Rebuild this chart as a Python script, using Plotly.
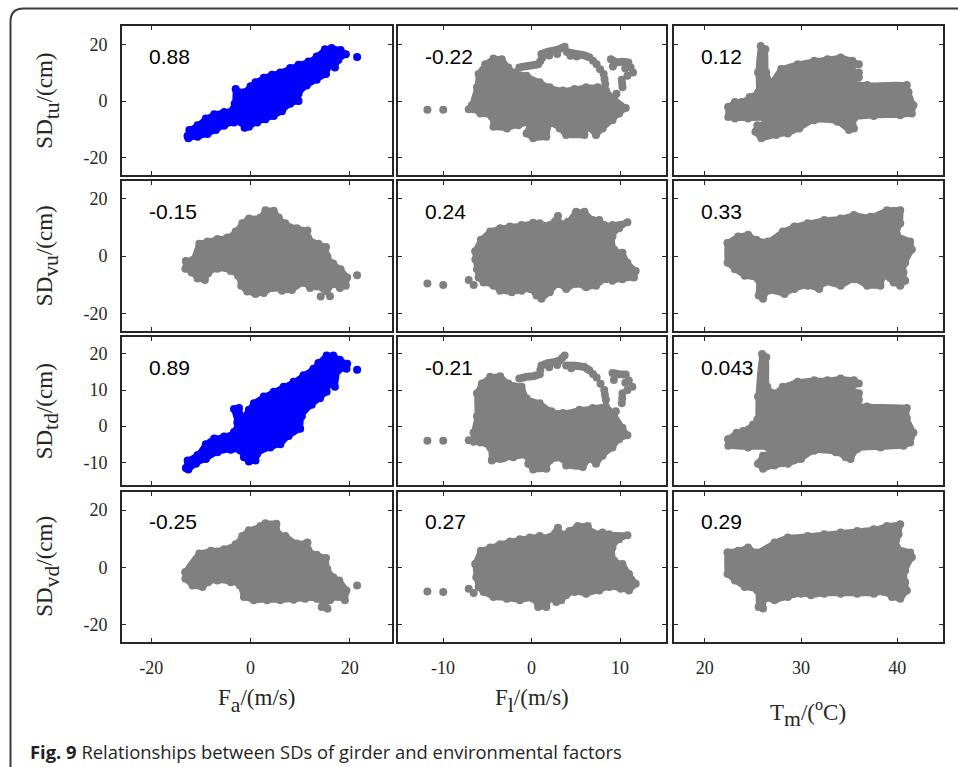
import plotly.graph_objects as go

W, H = 958, 767
BLUE = "#0000FF"
GRAY = "#808080"
AXC = "#262626"

# ---------------- axis metadata ----------------
SUB = '<span style="font-size:31px"><sub>{}</sub></span>'
X_TITLES = ["F" + SUB.format("a") + "/(m/s)", "F" + SUB.format("l") + "/(m/s)",
            "T" + SUB.format("m") + "/(<sup>o</sup>C)"]
Y_TITLES = ["SD" + SUB.format("tu") + "/(cm)", "SD" + SUB.format("vu") + "/(cm)",
            "SD" + SUB.format("td") + "/(cm)", "SD" + SUB.format("vd") + "/(cm)"]
X_TICKS = [[-20, 0, 20], [-10, 0, 10], [20, 30, 40]]
Y_TICKS = [[-20, 0, 20], [-20, 0, 20], [-10, 0, 10, 20], [-20, 0, 20]]
X_RANGES = [[-25.9, 28.4], [-15.15, 15.2], [16.8, 44.7]]
Y_RANGES = [[-26.0, 26.3], [-26.1, 26.1], [-16.4, 24.6], [-26.1, 26.4]]
CORR_LABELS = [["0.88", "-0.22", "0.12"],
               ["-0.15", "0.24", "0.33"],
               ["0.89", "-0.21", "0.043"],
               ["-0.25", "0.27", "0.29"]]
CAPTION_BOLD = "Fig. 9"
CAPTION_TEXT = "Relationships between SDs of girder and environmental factors"

# ---------------- point clouds (outline of dense cloud + isolated points) ----------------
# SD_tu vs F_a
FA_SDTU_X = [-12.67, -12.33, -10.67, -9.0, -7.33, -5.33, -3.47, -3.2, -3.0, -2.33, -1.33, 0, 1.0, 2.67, 4.33, 6.0, 8.0, 9.67, 11.67, 13.33, 15.0, 16.33, 18.13, 19.2, 17.67, 17.0, 16.0, 15.2, 13.33, 11.33, 9.67, 9.67, 8.0, 6.33, 4.67, 3.0, 1.33, -0.33, -1.2, -1.87, -3.33, -5.33, -7.0, -8.67, -10.67, -12.53]
FA_SDTU_Y = [-12.29, -10.2, -8.5, -6.15, -4.64, -3.83, -2.9, -0.93, 4.29, 3.13, 3.13, 5.22, 6.61, 8.23, 9.28, 10.09, 11.59, 12.75, 13.91, 15.65, 18.2, 18.67, 17.97, 16.46, 14.49, 11.83, 12.41, 9.51, 7.54, 5.45, 2.55, 0, -0.93, -3.59, -5.22, -6.38, -7.54, -9.04, -9.39, -7.54, -7.54, -8.7, -10.2, -11.59, -12.52, -13.1]
FA_SDTU_DOT_X = [21.47]
FA_SDTU_DOT_Y = [15.54]

# SD_vu vs F_a
FA_SDVU_X = [-13.0, -11.67, -10.33, -8.67, -6.67, -4.67, -3.0, -1.67, -0.33, 2.0, 3.0, 4.67, 5.67, 7.0, 9.33, 11.47, 11.67, 13.67, 15.2, 15.47, 16.67, 18.13, 19.47, 19.2, 18.0, 16.67, 15.33, 13.33, 12.0, 10.67, 8.33, 6.33, 4.67, 2.67, 1.0, -0.67, -1.87, -2.53, -4.0, -6.67, -8.53, -9.2, -10.67, -11.87, -13.13]
FA_SDVU_Y = [-1.72, -1.37, 4.35, 5.15, 5.96, 6.53, 8.59, 11.45, 13.17, 13.52, 16.04, 15.81, 13.52, 11.45, 9.74, 8.93, 6.3, 4.35, 3.21, 0, -2.52, -4.58, -7.45, -10.31, -11.11, -9.74, -12.37, -10.54, -11.11, -9.39, -11.8, -12.03, -11.11, -12.83, -13.17, -12.37, -10.31, -6.87, -5.15, -4.35, -5.96, -8.36, -7.79, -5.73, -4.35]
FA_SDVU_DOT_X = [21.47, 14.13, 16.0]
FA_SDVU_DOT_Y = [-6.64, -14.09, -13.97]

# SD_td vs F_a
FA_SDTD_X = [-13.0, -12.67, -10.67, -9.0, -7.33, -5.33, -3.33, -2.67, -3.33, -2.33, -1.67, -0.33, 0.67, 2.67, 4.67, 6.67, 8.67, 10.67, 12.67, 13.67, 15.33, 16.67, 18.0, 19.47, 19.33, 17.67, 17.0, 16.0, 15.33, 14.0, 12.33, 10.33, 10.0, 7.67, 6.0, 4.0, 1.33, 1.0, -0.33, -1.33, -2.0, -4.0, -6.67, -9.0, -11.0, -12.53]
FA_SDTD_Y = [-11.64, -9.55, -8.0, -5.0, -3.45, -2.91, -1.64, 0.91, 4.73, 5.0, 2.27, 4.55, 6.36, 8.18, 9.55, 10.91, 12.27, 14.09, 15.91, 17.45, 19.55, 19.55, 18.36, 17.27, 15.91, 15.45, 10.91, 11.82, 9.55, 7.73, 5.91, 2.73, -0.73, -2.73, -5.0, -5.91, -7.73, -9.55, -9.82, -8.64, -6.82, -6.55, -7.27, -9.09, -10.45, -12.0]
FA_SDTD_DOT_X = [21.47]
FA_SDTD_DOT_Y = [15.64]

# SD_vd vs F_a
FA_SDVD_X = [-13.13, -10.33, -8.0, -5.33, -3.0, -1.67, -0.33, 2.0, 3.0, 5.2, 5.67, 7.0, 9.33, 11.47, 11.67, 13.33, 15.2, 15.47, 16.67, 17.87, 19.33, 19.0, 17.67, 16.0, 15.0, 13.33, 11.0, 8.67, 6.0, 3.33, 0.67, -1.33, -2.13, -4.0, -6.67, -8.53, -9.67, -11.67, -13.13]
FA_SDVD_Y = [-1.73, 4.84, 5.77, 6.34, 8.07, 10.96, 12.92, 14.42, 15.34, 15.22, 11.53, 10.96, 8.3, 8.65, 6.0, 4.38, 3.23, -0.58, -3.46, -4.61, -8.07, -11.53, -10.38, -11.53, -12.92, -10.96, -10.96, -11.3, -11.53, -11.53, -11.53, -10.38, -6.34, -5.19, -4.61, -5.19, -6.92, -6.34, -4.04]
FA_SDVD_DOT_X = [21.47, 14.33, 15.5]
FA_SDVD_DOT_Y = [-6.34, -13.84, -14.5]

# SD_tu vs F_l
FL_SDTU_X = [-6.73, -6.17, -5.98, -5.23, -4.3, -3.36, -2.62, -1.87, -0.56, 0.93, 2.06, 3.55, 4.86, 6.17, 7.47, 8.41, 9.34, 10.65, 9.9, 9.15, 8.03, 7.29, 6.35, 5.98, 3.92, 3.18, 2.06, 1.68, 0.19, -0.56, -0.19, -1.49, -2.8, -4.3, -4.48, -5.79, -6.54]
FL_SDTU_Y = [-1.51, 4.87, 9.5, 12.98, 14.95, 14.72, 11.82, 10.08, 8.92, 6.6, 4.87, 3.71, 4.29, 4.87, 4.87, 3.71, 0.81, -2.43, -4.4, -6.72, -9.62, -11.94, -9.04, -11.94, -11.94, -9.62, -7.88, -12.51, -13.09, -11.36, -7.88, -8.46, -9.62, -9.04, -5.56, -4.4, -2.9]
FL_SDTU_DOT_X = [-11.77, -9.98, -7.1, -1.38, -1.0, -0.64, -0.26, 0.11, 0.45, 0.75, 1.0, 1.23, 1.12, 1.45, 1.76, 2.1, 2.43, 2.76, 3.1, 3.42, 3.74, 4.0, 4.35, 4.67, 5.0, 5.27, 5.6, 5.9, 6.22, 6.54, 6.95, 7.36, 7.75, 8.15, 8.25, 8.33, 8.97, 9.3, 9.6, 9.95, 10.28, 10.6, 10.95, 11.2, 11.47, 10.84, 10.2, 10.25, 10.28, 9.6, 2.0, 2.9, 4.4, 5.1, 9.2, 10.6]
FL_SDTU_DOT_Y = [-3.01, -3.01, -2.9, 11.82, 12.05, 12.28, 12.45, 12.63, 12.8, 12.98, 14.1, 15.3, 16.57, 16.9, 17.27, 17.5, 17.73, 17.95, 18.19, 18.65, 19.12, 17.27, 17.0, 16.8, 16.6, 16.45, 16.3, 16.11, 15.8, 15.41, 14.2, 12.98, 11.2, 9.5, 7.8, 6.03, 14.72, 14.1, 13.56, 13.7, 13.79, 13.7, 13.56, 11.8, 10.08, 8.92, 7.53, 6.2, 4.87, 2.55, 16.0, 16.6, 15.9, 15.7, 12.2, 11.5]

# SD_vu vs F_l
FL_SDVU_X = [-6.35, -5.72, -4.67, -3.55, -2.43, -1.12, 0.19, 0.93, 2.06, 2.99, 3.18, 4.11, 5.04, 5.98, 6.91, 7.66, 8.22, 9.15, 10.84, 9.9, 9.15, 9.34, 10.28, 10.84, 11.77, 11.58, 10.28, 9.15, 8.41, 7.29, 6.17, 5.04, 3.92, 2.99, 2.06, 1.12, 0.56, -0.19, -1.12, -2.24, -3.55, -4.3, -5.42, -5.98, -6.17, -6.35]
FL_SDVU_Y = [1.72, 5.73, 8.59, 9.74, 10.31, 10.88, 11.68, 11.45, 10.88, 13.97, 11.45, 12.03, 15.46, 15.46, 12.6, 12.6, 10.88, 10.88, 11.8, 9.74, 6.87, 2.29, 1.15, -2.29, -5.15, -7.45, -8.02, -8.59, -8.02, -10.31, -10.88, -9.74, -11.45, -9.74, -12.6, -14.89, -13.75, -11.45, -12.03, -12.6, -12.03, -10.31, -9.16, -7.45, -4.58, -1.15]
FL_SDVU_DOT_X = [-11.77, -9.98, -7.1, -6.54]
FL_SDVU_DOT_Y = [-9.51, -10.08, -8.36, -10.08]

# SD_td vs F_l
FL_SDTD_X = [-6.54, -6.17, -6.17, -5.61, -4.67, -3.55, -2.62, -1.12, -0.56, 0.93, 2.24, 3.55, 5.42, 6.91, 8.41, 9.34, 10.28, 10.84, 9.9, 9.15, 8.03, 7.29, 6.54, 5.79, 3.92, 3.55, 2.06, 1.68, 0.19, -0.37, -0.56, -2.06, -3.55, -4.48, -4.67, -5.79, -6.54]
FL_SDTD_Y = [-1.82, 2.73, 9.09, 11.82, 13.64, 13.82, 11.82, 10.91, 7.73, 6.36, 4.09, 3.64, 4.55, 5.0, 5.45, 3.18, -0.45, -2.55, -3.64, -5.91, -8.18, -10.45, -9.09, -11.36, -10.91, -9.09, -9.55, -11.82, -12.0, -10.45, -8.18, -8.64, -9.09, -9.55, -5.91, -4.55, -4.32]
FL_SDTD_DOT_X = [-11.77, -9.98, -7.1, -4.48, -3.18, -1.38, -0.97, -0.56, -0.19, 0.19, 0.56, 0.93, 1.0, 1.12, 1.5, 1.87, 2.25, 2.62, 2.9, 3.18, 3.46, 3.74, 3.92, 4.3, 4.67, 4.95, 5.23, 5.6, 5.98, 6.26, 6.54, 6.95, 7.36, 7.8, 8.22, 8.3, 8.41, 9.15, 9.5, 9.9, 10.3, 10.65, 11.0, 11.4, 10.84, 10.28, 10.25, 10.2, 9.53, 2.0, 2.9, 4.5, 9.3, 10.6]
FL_SDTD_DOT_Y = [-4.09, -4.09, -3.91, -9.36, -8.91, 13.18, 13.41, 13.64, 13.73, 13.82, 14.09, 14.36, 15.6, 16.82, 17.13, 17.45, 17.59, 17.73, 17.95, 18.18, 18.86, 19.55, 16.82, 16.82, 16.82, 16.73, 16.64, 16.5, 16.36, 15.9, 15.45, 14.45, 13.45, 11.7, 10.0, 8.6, 7.27, 14.73, 14.55, 14.36, 14.3, 14.27, 12.6, 10.91, 10.0, 9.09, 7.7, 6.36, 4.09, 16.3, 16.9, 16.0, 12.8, 12.0]

# SD_vd vs F_l
FL_SDVD_X = [-6.35, -5.72, -4.67, -3.55, -2.43, -1.31, -0.19, 0.93, 2.06, 2.99, 3.36, 4.3, 5.23, 6.35, 6.91, 8.03, 8.78, 10.84, 9.9, 9.15, 9.34, 10.28, 11.02, 11.77, 11.02, 10.09, 8.78, 7.66, 6.17, 4.86, 3.92, 3.36, 2.8, 2.06, 1.68, 0.75, 0.19, -1.31, -2.8, -4.3, -5.42, -5.98, -6.24]
FL_SDVD_Y = [1.15, 5.77, 6.92, 8.07, 8.99, 9.8, 10.38, 10.96, 10.61, 13.84, 11.53, 12.69, 14.42, 14.42, 12.11, 12.11, 11.53, 11.19, 9.8, 6.92, 2.31, 1.15, -2.31, -5.77, -8.07, -7.5, -6.92, -8.07, -9.23, -8.65, -9.8, -11.53, -12.11, -10.96, -13.84, -13.84, -10.96, -11.53, -10.96, -10.38, -8.65, -6.92, -3.46]
FL_SDVD_DOT_X = [-11.77, -9.98, -7.1, -6.54, -5.61]
FL_SDVD_DOT_Y = [-8.42, -8.65, -7.5, -9.0, -7.5]

# SD_tu vs T_m
TM_SDTU_X = [22.44, 23.13, 23.81, 24.67, 25.53, 25.53, 25.81, 26.29, 26.39, 26.91, 27.94, 29.66, 31.37, 32.75, 34.12, 35.33, 36.01, 34.98, 36.01, 36.01, 35.15, 36.87, 40.99, 41.17, 41.68, 41.51, 40.31, 37.56, 35.5, 35.5, 34.98, 33.78, 31.37, 29.83, 28.63, 27.42, 25.88, 25.26, 25.46, 26.91, 26.22, 24.5, 23.13, 22.44]
TM_SDTU_Y = [-2.09, -0.35, -0.35, 1.39, 3.13, 10.08, 19.35, 18.19, 10.08, 6.6, 11.24, 12.98, 14.14, 14.72, 15.3, 14.14, 12.98, 11.47, 10.08, 8.34, 6.6, 5.68, 5.68, 3.13, -1.51, -4.4, -4.98, -5.21, -6.14, -9.62, -10.2, -7.3, -6.72, -9.62, -11.36, -11.94, -13.09, -10.78, -8.46, -7.3, -6.14, -6.14, -6.14, -5.56]

# SD_vu vs T_m
TM_SDVU_X = [22.37, 23.47, 24.5, 25.36, 26.56, 28.11, 29.31, 30.69, 32.41, 34.12, 35.5, 37.22, 38.93, 40.31, 40.31, 39.97, 41.34, 41.51, 40.82, 40.65, 40.82, 40.31, 39.62, 38.59, 38.25, 36.87, 35.5, 34.12, 32.41, 31.89, 30.69, 29.31, 28.28, 26.56, 26.05, 25.6, 25.53, 24.16, 23.13, 22.37]
TM_SDVU_Y = [4.58, 6.87, 7.45, 5.73, 5.15, 8.59, 10.31, 11.45, 12.6, 13.17, 14.32, 13.75, 16.04, 16.04, 11.45, 7.45, 5.15, 2.29, -2.29, -5.73, -8.59, -10.31, -9.16, -6.87, -10.31, -10.31, -8.02, -10.31, -9.16, -11.45, -10.31, -11.45, -13.17, -12.03, -14.89, -13.75, -8.02, -6.87, -4.58, -2.29]

# SD_td vs T_m
TM_SDTD_X = [22.44, 23.3, 23.99, 25.02, 25.46, 25.53, 25.95, 26.39, 26.49, 27.25, 28.11, 29.66, 31.37, 32.75, 34.12, 35.5, 36.01, 35.15, 36.01, 36.01, 34.81, 36.87, 40.99, 40.99, 41.68, 41.34, 40.65, 38.25, 35.85, 35.15, 34.64, 33.61, 31.37, 30.0, 28.63, 27.25, 26.05, 25.53, 26.05, 27.25, 26.56, 24.5, 22.44]
TM_SDTD_Y = [-3.64, -1.82, -1.36, 0.45, 1.82, 8.18, 20.0, 19.09, 10.91, 9.09, 10.91, 12.27, 12.73, 12.73, 13.18, 12.73, 11.82, 10.45, 9.09, 7.27, 6.36, 5.45, 5.0, 2.27, -1.82, -4.55, -5.45, -5.91, -6.36, -9.09, -8.64, -7.27, -6.82, -9.09, -10.45, -10.91, -11.82, -10.45, -8.18, -6.82, -5.91, -5.91, -5.45]

# SD_vd vs T_m
TM_SDVD_X = [22.37, 23.47, 24.5, 25.36, 27.25, 28.63, 30.69, 32.41, 34.12, 35.84, 37.56, 38.93, 40.31, 40.14, 39.97, 41.34, 41.51, 40.82, 40.82, 40.99, 40.31, 39.45, 38.59, 37.56, 35.84, 34.12, 32.41, 31.03, 30.0, 28.63, 27.25, 26.22, 26.05, 25.6, 25.46, 24.16, 23.13, 22.37]
TM_SDVD_Y = [5.19, 5.77, 6.92, 5.19, 8.65, 10.38, 10.96, 11.53, 12.11, 12.69, 13.26, 14.42, 14.99, 11.53, 6.92, 5.19, 3.46, -1.15, -5.19, -8.07, -10.96, -10.38, -8.65, -9.23, -9.23, -9.23, -9.23, -9.8, -9.23, -10.38, -11.53, -10.96, -14.42, -13.84, -8.07, -6.92, -4.61, -2.31]

PANELS = [
    [(FA_SDTU_X, FA_SDTU_Y, FA_SDTU_DOT_X, FA_SDTU_DOT_Y, BLUE),
     (FL_SDTU_X, FL_SDTU_Y, FL_SDTU_DOT_X, FL_SDTU_DOT_Y, GRAY),
     (TM_SDTU_X, TM_SDTU_Y, [], [], GRAY)],
    [(FA_SDVU_X, FA_SDVU_Y, FA_SDVU_DOT_X, FA_SDVU_DOT_Y, GRAY),
     (FL_SDVU_X, FL_SDVU_Y, FL_SDVU_DOT_X, FL_SDVU_DOT_Y, GRAY),
     (TM_SDVU_X, TM_SDVU_Y, [], [], GRAY)],
    [(FA_SDTD_X, FA_SDTD_Y, FA_SDTD_DOT_X, FA_SDTD_DOT_Y, BLUE),
     (FL_SDTD_X, FL_SDTD_Y, FL_SDTD_DOT_X, FL_SDTD_DOT_Y, GRAY),
     (TM_SDTD_X, TM_SDTD_Y, [], [], GRAY)],
    [(FA_SDVD_X, FA_SDVD_Y, FA_SDVD_DOT_X, FA_SDVD_DOT_Y, GRAY),
     (FL_SDVD_X, FL_SDVD_Y, FL_SDVD_DOT_X, FL_SDVD_DOT_Y, GRAY),
     (TM_SDVD_X, TM_SDVD_Y, [], [], GRAY)],
]

# ---------------- layout geometry (pixels; inner edge of each frame) ----------------
COL_PX = [(122, 391.5), (397.5, 666), (674, 942.5)]
ROW_PX = [(26.3, 175), (181.3, 331), (337.3, 485.3), (491.7, 642)]


def px_x(p):
    return p / W


def px_y(p):
    return 1 - p / H


fig = go.Figure()
layout = dict(
    width=W, height=H, margin=dict(l=0, r=0, t=0, b=0),
    paper_bgcolor="white", plot_bgcolor="white", showlegend=False,
    annotations=[], shapes=[],
)

SERIF = "Liberation Serif, Times New Roman, serif"
SANS = "Liberation Sans, Arial, sans-serif"

for r in range(4):
    for c in range(3):
        n = r * 3 + c + 1
        xa = "xaxis" if n == 1 else f"xaxis{n}"
        ya = "yaxis" if n == 1 else f"yaxis{n}"
        xr = "x" if n == 1 else f"x{n}"
        yr = "y" if n == 1 else f"y{n}"
        l, rr = COL_PX[c]
        t, b = ROW_PX[r]
        common = dict(showline=True, linecolor=AXC, linewidth=2, mirror="ticks",
                      ticks="inside", ticklen=4, tickwidth=1.3, tickcolor=AXC,
                      showgrid=False, zeroline=False, fixedrange=True)
        layout[xa] = dict(domain=[px_x(l), px_x(rr)], range=X_RANGES[c], anchor=yr,
                          tickvals=X_TICKS[c], ticktext=[str(v) for v in X_TICKS[c]],
                          showticklabels=(r == 3), ticklabelstandoff=8,
                          tickfont=dict(family=SERIF, size=18, color=AXC), **common)
        layout[ya] = dict(domain=[px_y(b), px_y(t)], range=Y_RANGES[r], anchor=xr,
                          tickvals=Y_TICKS[r], ticktext=[str(v) for v in Y_TICKS[r]],
                          showticklabels=(c == 0), ticklabelstandoff=9,
                          tickfont=dict(family=SERIF, size=18, color=AXC), **common)

        bx, by, dx, dy, col = PANELS[r][c]
        fig.add_trace(go.Scatter(
            x=list(bx) + [bx[0]], y=list(by) + [by[0]], mode="lines+markers",
            fill="toself", fillcolor=col,
            line=dict(color=col, width=5, shape="spline", smoothing=0.5),
            marker=dict(size=8, color=col, line=dict(width=0)),
            xaxis=xr, yaxis=yr, hoverinfo="skip"))
        if dx:
            fig.add_trace(go.Scatter(
                x=dx, y=dy, mode="markers",
                marker=dict(size=8, color=col, line=dict(width=0)),
                xaxis=xr, yaxis=yr, hoverinfo="skip"))

        # correlation coefficient label
        layout["annotations"].append(dict(
            text=CORR_LABELS[r][c], xref="paper", yref="paper",
            x=px_x(l + 25), y=px_y(t + 30), xanchor="left", yanchor="middle",
            showarrow=False, font=dict(family=SANS, size=21, color="black")))

# y-axis titles
for r in range(4):
    t, b = ROW_PX[r]
    layout["annotations"].append(dict(
        text=Y_TITLES[r], xref="paper", yref="paper", x=px_x(48), y=px_y((t + b) / 2),
        xanchor="center", yanchor="middle", textangle=-90, showarrow=False,
        font=dict(family=SERIF, size=23, color=AXC)))

# x-axis titles
X_TITLE_Y = [701, 701, 713]
for c in range(3):
    l, rr = COL_PX[c]
    layout["annotations"].append(dict(
        text=X_TITLES[c], xref="paper", yref="paper", x=px_x((l + rr) / 2), y=px_y(X_TITLE_Y[c]),
        xanchor="center", yanchor="middle", showarrow=False,
        font=dict(family=SERIF, size=23, color=AXC)))

# caption
layout["annotations"].append(dict(
    text=f"<b>{CAPTION_BOLD}</b> {CAPTION_TEXT}", xref="paper", yref="paper",
    x=px_x(28), y=px_y(751), xanchor="left", yanchor="middle", showarrow=False,
    font=dict(family="Open Sans, sans-serif", size=18.4, color="#231f20")))

# outer rounded frame (top-left corner visible)
x0, yt, rad = 10.5, 8.5, 13
path = (f"M {px_x(x0)} {px_y(790)} L {px_x(x0)} {px_y(yt + rad)} "
        f"Q {px_x(x0)} {px_y(yt)} {px_x(x0 + rad)} {px_y(yt)} L {px_x(990)} {px_y(yt)}")
layout["shapes"].append(dict(type="path", path=path, xref="paper", yref="paper",
                             line=dict(color="#3a3a3a", width=2)))

fig.update_layout(**layout)
fig.write_html("out.html")
